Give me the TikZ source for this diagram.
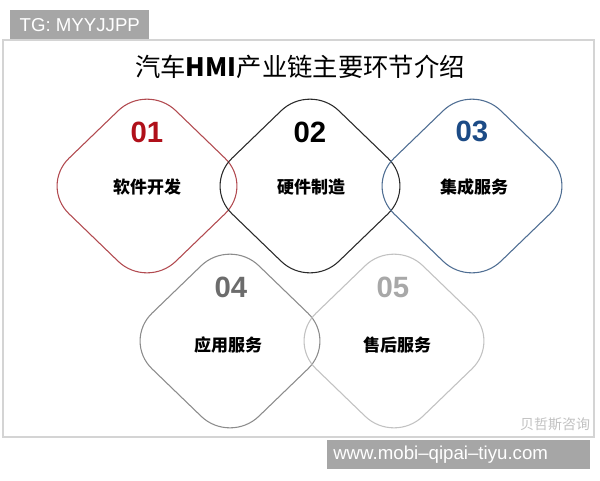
\documentclass[tikz,border=0pt]{standalone}
\usepackage{fontspec}
\setmainfont{Liberation Sans}
\newfontfamily\cjk{Noto Sans CJK SC}
\usetikzlibrary{shapes.geometric}

\definecolor{redline}{HTML}{B24A50}
\definecolor{rednum}{HTML}{B0101A}
\definecolor{blackline}{HTML}{2A2A2A}
\definecolor{blueline}{HTML}{4F6E93}
\definecolor{bluenum}{HTML}{1C4B86}
\definecolor{grayline}{HTML}{8C8C8C}
\definecolor{graynum}{HTML}{6C6C6C}
\definecolor{lightline}{HTML}{C2C2C2}
\definecolor{lightnum}{HTML}{A8A8A8}
\definecolor{tagfill}{HTML}{A6A6A6}
\definecolor{framegray}{HTML}{D4D4D4}

\begin{document}
\begin{tikzpicture}[
        x=0.75pt, y=-0.75pt,
        petal/.style={
            diamond,
            draw,
            line width=0.8pt,
            minimum width=160.5pt,
            minimum height=155pt,
            rounded corners=30pt,
            inner sep=0pt
        },
        num/.style={font=\fontsize{22}{22}\selectfont\bfseries},
        stage/.style={font=\cjk\fontsize{12.75}{13}\selectfont\bfseries},
        tag/.style={
            fill=tagfill,
            text=white,
            inner sep=0pt,
            minimum height=21.75pt,
            font=\fontsize{14}{14}\selectfont
        }
    ]

    % Page and frame
    \useasboundingbox (0,0) rectangle (600,480);
    \fill[white] (0,0) rectangle (600,480);
    \draw[framegray, line width=1.2pt] (3,40) rectangle (594,437);

    % Tags
    \node[tag, anchor=north west, minimum width=104.25pt] (tg) at (10,10) {TG: MYYJJPP};
    \node[tag, anchor=north west, text width=188pt, inner xsep=4.5pt, align=left] (web) at (327,440) {www.mobi--qipai--tiyu.com};
    \node[lightline, font=\cjk\fontsize{10.5}{11}\selectfont] (mark) at (555,424) {贝哲斯咨询};

    % Title
    \node[font=\cjk\fontsize{19}{19}\selectfont] (title) at (300,67) {汽车\textbf{HMI}产业链主要环节介绍};

    % Main diamonds
    \node[petal, redline] (d1) at (147,186) {};
    \node[petal, blackline] (d2) at (310,186) {};
    \node[petal, blueline] (d3) at (472,186) {};
    \node[petal, grayline] (d4) at (230,341) {};
    \node[petal, lightline] (d5) at (394,341) {};

    % Numbers
    \node[num, rednum] (n1) at (147,132) {01};
    \node[num, black] (n2) at (310,132) {02};
    \node[num, bluenum] (n3) at (472,131) {03};
    \node[num, graynum] (n4) at (231,287) {04};
    \node[num, lightnum] (n5) at (393,287) {05};

    % Stage names
    \node[stage] (s1) at (147,187) {软件开发};
    \node[stage] (s2) at (311,187) {硬件制造};
    \node[stage] (s3) at (474,187) {集成服务};
    \node[stage] (s4) at (228,345) {应用服务};
    \node[stage] (s5) at (397,345) {售后服务};

\end{tikzpicture}
\end{document}
